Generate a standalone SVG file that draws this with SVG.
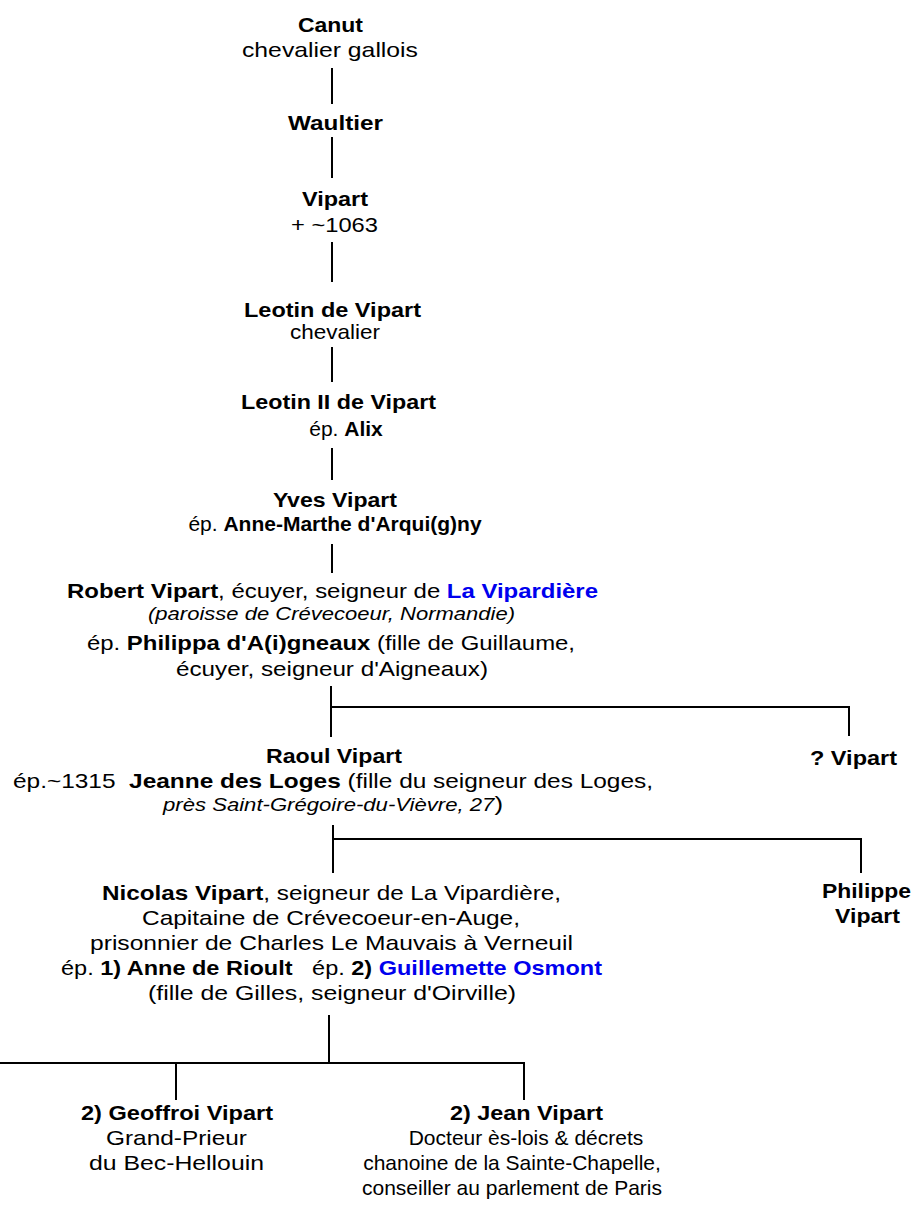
<svg xmlns="http://www.w3.org/2000/svg" width="913" height="1212" viewBox="0 0 913 1212">
<style>
text{font-family:"Liberation Sans",Arial,sans-serif;font-size:21px;fill:#000;white-space:pre}
.b{font-weight:bold}
.i{font-style:italic;font-size:18px}
.blue{fill:#0000ee}
#connectors line{stroke:#000;stroke-width:2;fill:none}
</style>
<rect width="913" height="1212" fill="#fff"/>
<g id="connectors">
<line x1="332" y1="68" x2="332" y2="104"/>
<line x1="332" y1="137" x2="332" y2="178"/>
<line x1="332" y1="242" x2="332" y2="282"/>
<line x1="332" y1="347" x2="332" y2="382"/>
<line x1="332" y1="448" x2="332" y2="480"/>
<line x1="332" y1="544" x2="332" y2="573"/>
<line x1="331" y1="686" x2="331" y2="737"/>
<line x1="330" y1="707" x2="850" y2="707"/>
<line x1="849" y1="706" x2="849" y2="736"/>
<line x1="333" y1="825" x2="333" y2="873"/>
<line x1="332" y1="839" x2="862" y2="839"/>
<line x1="861" y1="838" x2="861" y2="873"/>
<line x1="329" y1="1015" x2="329" y2="1063"/>
<line x1="0" y1="1063" x2="525" y2="1063"/>
<line x1="176" y1="1063" x2="176" y2="1100"/>
<line x1="524" y1="1062" x2="524" y2="1100"/>
</g>
<g id="canut">
<text class="b" x="298" y="32" textLength="65" lengthAdjust="spacingAndGlyphs">Canut</text>
<text x="242" y="57" textLength="176" lengthAdjust="spacingAndGlyphs">chevalier gallois</text>
</g>
<g id="waultier">
<text class="b" x="288" y="130" textLength="95" lengthAdjust="spacingAndGlyphs">Waultier</text>
</g>
<g id="vipart">
<text class="b" x="302" y="206" textLength="66" lengthAdjust="spacingAndGlyphs">Vipart</text>
<text x="291" y="232" textLength="87" lengthAdjust="spacingAndGlyphs">+ ~1063</text>
</g>
<g id="leotin">
<text class="b" x="244" y="317" textLength="177" lengthAdjust="spacingAndGlyphs">Leotin de Vipart</text>
<text x="290" y="339" textLength="90" lengthAdjust="spacingAndGlyphs">chevalier</text>
</g>
<g id="leotin2">
<text class="b" x="241" y="409" textLength="195" lengthAdjust="spacingAndGlyphs">Leotin II de Vipart</text>
<text x="346" y="436" text-anchor="middle">ép. <tspan class="b">Alix</tspan></text>
</g>
<g id="yves">
<text class="b" x="273" y="507" textLength="124" lengthAdjust="spacingAndGlyphs">Yves Vipart</text>
<text x="335" y="531" text-anchor="middle">ép. <tspan class="b">Anne-Marthe d'Arqui(g)ny</tspan></text>
</g>
<g id="robert">
<text x="67" y="598" textLength="531" lengthAdjust="spacingAndGlyphs"><tspan class="b">Robert Vipart</tspan>, écuyer, seigneur de <tspan class="b blue">La Vipardière</tspan></text>
<text class="i" x="148" y="620" textLength="367" lengthAdjust="spacingAndGlyphs">(paroisse de Crévecoeur, Normandie)</text>
<text x="87" y="650" textLength="488" lengthAdjust="spacingAndGlyphs">ép. <tspan class="b">Philippa d'A(i)gneaux</tspan> (fille de Guillaume,</text>
<text x="176" y="676" textLength="312" lengthAdjust="spacingAndGlyphs">écuyer, seigneur d'Aigneaux)</text>
</g>
<g id="raoul">
<text class="b" x="266" y="763" textLength="136" lengthAdjust="spacingAndGlyphs">Raoul Vipart</text>
<text x="13" y="788" textLength="640" lengthAdjust="spacingAndGlyphs">ép.~1315  <tspan class="b">Jeanne des Loges</tspan> (fille du seigneur des Loges,</text>
<text x="163" y="811" textLength="340" lengthAdjust="spacingAndGlyphs"><tspan class="i">près Saint-Grégoire-du-Vièvre, 27</tspan>)</text>
</g>
<g id="vipart-inconnu">
<text class="b" x="810" y="765" textLength="87" lengthAdjust="spacingAndGlyphs">? Vipart</text>
</g>
<g id="nicolas">
<text x="102" y="900" textLength="459" lengthAdjust="spacingAndGlyphs"><tspan class="b">Nicolas Vipart</tspan>, seigneur de La Vipardière,</text>
<text x="142" y="925" textLength="378" lengthAdjust="spacingAndGlyphs">Capitaine de Crévecoeur-en-Auge,</text>
<text x="90" y="950" textLength="483" lengthAdjust="spacingAndGlyphs">prisonnier de Charles Le Mauvais à Verneuil</text>
<text x="61" y="975" textLength="541" lengthAdjust="spacingAndGlyphs">ép. <tspan class="b">1) Anne de Rioult</tspan>   ép. <tspan class="b">2)</tspan> <tspan class="b blue">Guillemette Osmont</tspan></text>
<text x="148" y="1000" textLength="368" lengthAdjust="spacingAndGlyphs">(fille de Gilles, seigneur d'Oirville)</text>
</g>
<g id="philippe">
<text class="b" x="822" y="898" textLength="89" lengthAdjust="spacingAndGlyphs">Philippe</text>
<text class="b" x="835" y="923" textLength="65" lengthAdjust="spacingAndGlyphs">Vipart</text>
</g>
<g id="geoffroi">
<text class="b" x="81" y="1120" textLength="192" lengthAdjust="spacingAndGlyphs">2) Geoffroi Vipart</text>
<text x="106" y="1145" textLength="141" lengthAdjust="spacingAndGlyphs">Grand-Prieur</text>
<text x="89" y="1170" textLength="175" lengthAdjust="spacingAndGlyphs">du Bec-Hellouin</text>
</g>
<g id="jean">
<text class="b" x="450" y="1120" textLength="153" lengthAdjust="spacingAndGlyphs">2) Jean Vipart</text>
<text x="526" y="1145" text-anchor="middle">Docteur ès-lois &amp; décrets</text>
<text x="512" y="1170" text-anchor="middle">chanoine de la Sainte-Chapelle,</text>
<text x="512" y="1195" text-anchor="middle">conseiller au parlement de Paris</text>
</g>
</svg>
